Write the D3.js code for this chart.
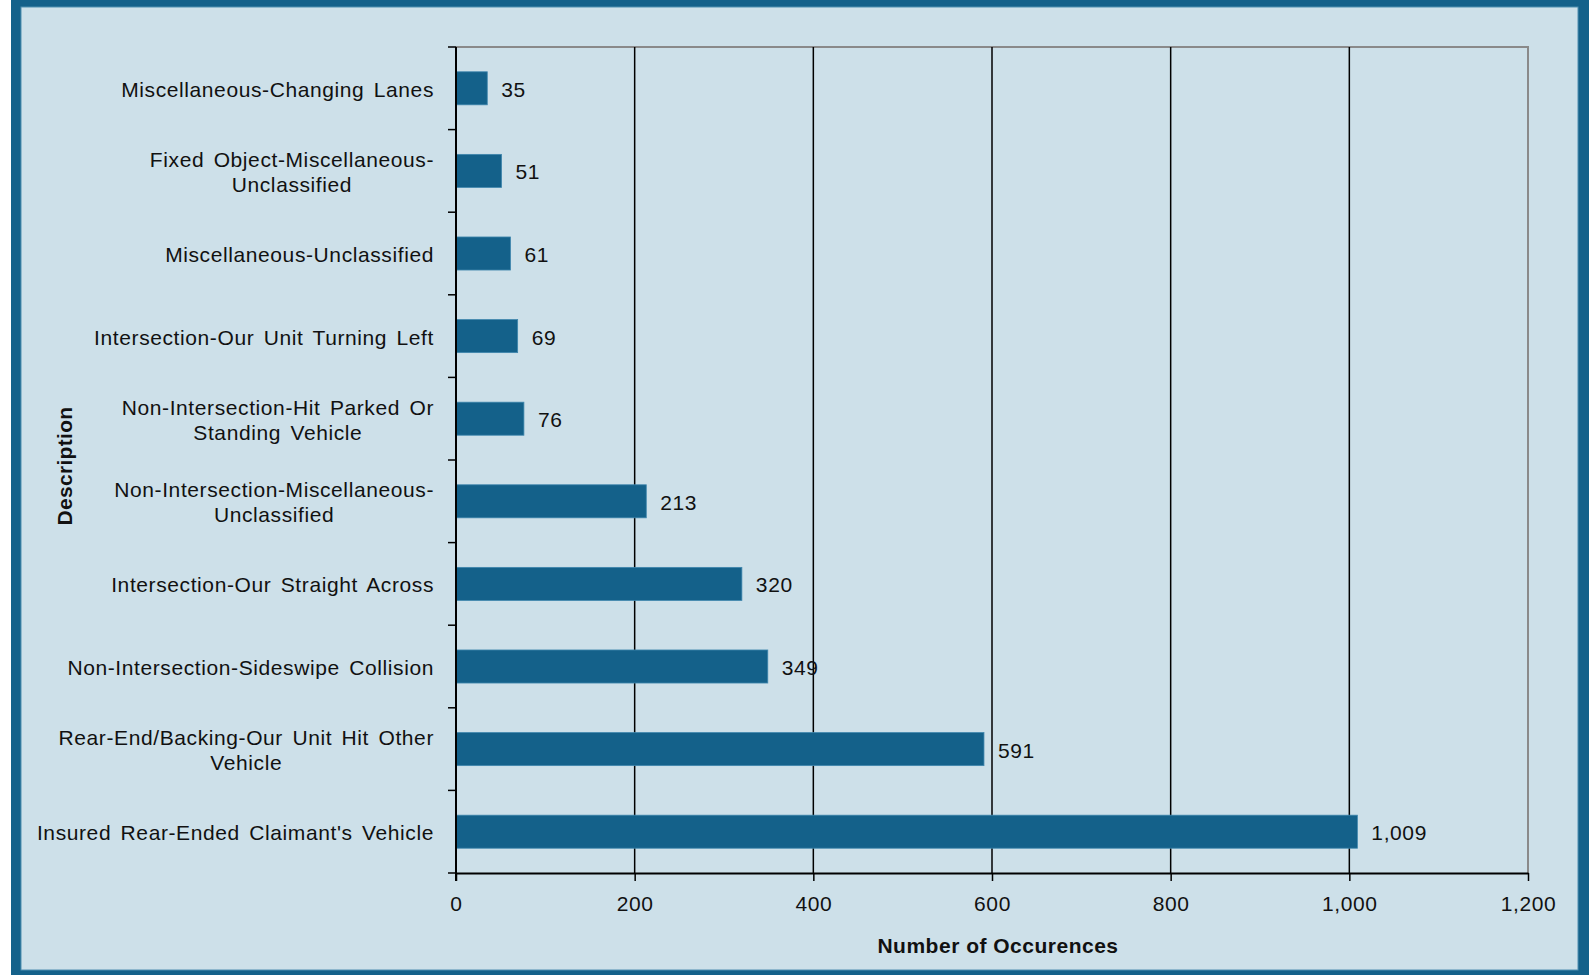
<!DOCTYPE html>
<html>
<head>
<meta charset="utf-8">
<script src="https://cdn.jsdelivr.net/npm/d3@7"></script>
<style>
  html, body { margin: 0; padding: 0; background: #ffffff; }
  svg { display: block; font-family: "Liberation Sans", Arial, sans-serif; }
</style>
</head>
<body>
<script>
// Accident descriptions, top to bottom, and their occurrence counts
const categories = [
  "Miscellaneous-Changing Lanes",
  "Fixed Object-Miscellaneous-Unclassified",
  "Miscellaneous-Unclassified",
  "Intersection-Our Unit Turning Left",
  "Non-Intersection-Hit Parked Or Standing Vehicle",
  "Non-Intersection-Miscellaneous-Unclassified",
  "Intersection-Our Straight Across",
  "Non-Intersection-Sideswipe Collision",
  "Rear-End/Backing-Our Unit Hit Other Vehicle",
  "Insured Rear-Ended Claimant's Vehicle"
];
const occurrences = [35, 51, 61, 69, 76, 213, 320, 349, 591, 1009];

// Wrapped lines for the category labels
const labelLines = [
  ["Miscellaneous-Changing Lanes"],
  ["Fixed Object-Miscellaneous-", "Unclassified"],
  ["Miscellaneous-Unclassified"],
  ["Intersection-Our Unit Turning Left"],
  ["Non-Intersection-Hit Parked Or", "Standing Vehicle"],
  ["Non-Intersection-Miscellaneous-", "Unclassified"],
  ["Intersection-Our Straight Across"],
  ["Non-Intersection-Sideswipe Collision"],
  ["Rear-End/Backing-Our Unit Hit Other", "Vehicle"],
  ["Insured Rear-Ended Claimant's Vehicle"]
];
const xTicks = [0, 200, 400, 600, 800, 1000, 1200];
const xTitle = "Number of Occurences";
const yTitle = "Description";

const W = 1596, H = 975;
const dark = "#14618a", panel = "#cde0e9", ink = "#111111";
const fs = 21, ls = 0.6;

const svg = d3.select("body").append("svg").attr("width", W).attr("height", H);

// Frame
svg.append("rect").attr("x", 11).attr("y", -5).attr("width", 1578).attr("height", 980).attr("fill", dark);
svg.append("rect").attr("x", 21).attr("y", 7).attr("width", 1557).attr("height", 963)
  .attr("fill", panel).attr("stroke", "#4f8fb0").attr("stroke-width", 1);

const plot = { left: 456, right: 1528, top: 47, bottom: 873 };

const x = d3.scaleLinear().domain([0, 1200]).range([plot.left, plot.right]);
const y = d3.scaleBand().domain(categories).range([plot.top, plot.bottom])
  .paddingInner(0.6).paddingOuter(0.3);

// Plot border (top and right)
svg.append("path")
  .attr("d", `M${plot.left},${plot.top}H${plot.right}V${plot.bottom}`)
  .attr("fill", "none").attr("stroke", "#8a8a8a").attr("stroke-width", 2);

// Vertical gridlines
svg.append("g").selectAll("line").data(xTicks.slice(1, -1)).join("line")
  .attr("x1", d => x(d)).attr("x2", d => x(d))
  .attr("y1", plot.top).attr("y2", plot.bottom)
  .attr("stroke", "#000").attr("stroke-width", 1.5);

// Bars
svg.append("g").selectAll("rect").data(categories).join("rect")
  .attr("x", x(0))
  .attr("y", d => y(d))
  .attr("width", (d, i) => x(occurrences[i]) - x(0))
  .attr("height", y.bandwidth())
  .attr("fill", dark)
  .attr("stroke", "#3f86ad").attr("stroke-width", 0.8);

// Value labels
svg.append("g").selectAll("text").data(categories).join("text")
  .attr("x", (d, i) => x(occurrences[i]) + 14)
  .attr("y", d => y(d) + y.bandwidth() / 2)
  .attr("dy", "0.4em")
  .attr("font-size", fs).attr("letter-spacing", ls).attr("fill", ink)
  .text((d, i) => d3.format(",")(occurrences[i]));

// X axis
const xAxis = svg.append("g").attr("transform", `translate(0,${plot.bottom})`)
  .call(d3.axisBottom(x).tickValues(xTicks).tickFormat(d3.format(",")).tickSize(8).tickPadding(15).tickSizeOuter(0));
xAxis.select(".domain").attr("stroke", "#000").attr("stroke-width", 2);
xAxis.selectAll(".tick line").attr("stroke", "#000").attr("stroke-width", 1.5);
xAxis.selectAll(".tick text").attr("font-size", fs).attr("letter-spacing", ls).attr("fill", ink)
  .attr("font-family", "Liberation Sans, Arial, sans-serif");

// Y axis line with ticks at category boundaries
const stepBoundaries = categories.map(c => y(c) - y.step() * y.paddingInner() / 2).concat([plot.bottom]);
stepBoundaries[0] = plot.top;
svg.append("line")
  .attr("x1", plot.left).attr("x2", plot.left)
  .attr("y1", plot.top).attr("y2", plot.bottom + 8)
  .attr("stroke", "#000").attr("stroke-width", 2);
svg.append("g").selectAll("line").data(stepBoundaries).join("line")
  .attr("x1", plot.left - 8).attr("x2", plot.left)
  .attr("y1", d => d).attr("y2", d => d)
  .attr("stroke", "#000").attr("stroke-width", 1.5);

// Category labels: wrapped lines centred on each other, block right-aligned
const labelRight = 434, lineGap = 25;
const lg = svg.append("g").attr("font-size", fs).attr("letter-spacing", ls)
  .attr("word-spacing", 3).attr("fill", ink);
categories.forEach((c, i) => {
  const lines = labelLines[i];
  const cy = y(c) + y.bandwidth() / 2;
  const t = lg.append("text").attr("text-anchor", "middle");
  const spans = lines.map((ln, j) => t.append("tspan")
    .attr("y", cy + (j - (lines.length - 1) / 2) * lineGap)
    .attr("dy", "0.4em")
    .text(ln));
  const widths = spans.map(s => s.node().getComputedTextLength());
  const maxW = d3.max(widths);
  spans.forEach(s => s.attr("x", labelRight - maxW / 2));
});

// Axis titles
svg.append("text")
  .attr("x", (plot.left + plot.right) / 2 + 6).attr("y", 945).attr("dy", "0.36em")
  .attr("text-anchor", "middle").attr("font-size", fs).attr("letter-spacing", 0.5)
  .attr("font-weight", "bold").attr("fill", ink)
  .text(xTitle);
svg.append("text")
  .attr("transform", `translate(64,${(plot.top + plot.bottom) / 2 + 6}) rotate(-90)`)
  .attr("dy", "0.36em")
  .attr("text-anchor", "middle").attr("font-size", fs).attr("letter-spacing", 0.3)
  .attr("font-weight", "bold").attr("fill", ink)
  .text(yTitle);
</script>
</body>
</html>
